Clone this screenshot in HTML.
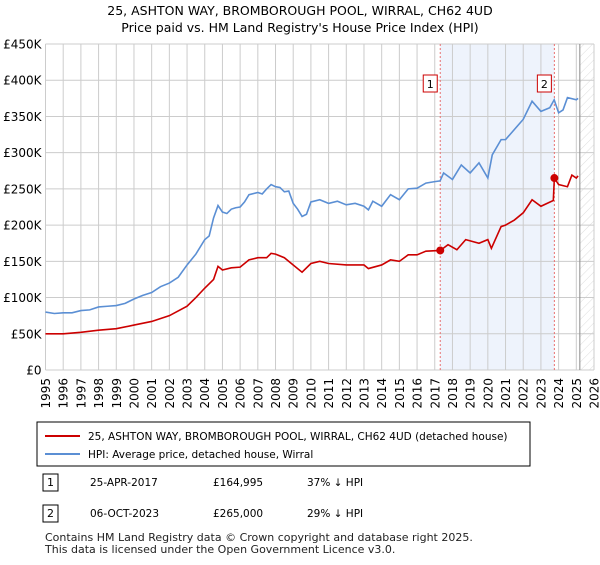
<!DOCTYPE html>
<html><head><meta charset="utf-8"><style>
body{margin:0;background:#fff;font-family:"Liberation Sans","DejaVu Sans",sans-serif;}
svg text{font-family:"DejaVu Sans","Liberation Sans",sans-serif;}
</style></head><body>
<svg id="c" width="600" height="560" xmlns="http://www.w3.org/2000/svg">
<defs><pattern id="h" width="6" height="6" patternUnits="userSpaceOnUse" patternTransform="rotate(45)"><line x1="0" y1="0" x2="0" y2="6" stroke="#d4d4d4" stroke-width="0.8"/></pattern></defs>
<text x="300" y="15" text-anchor="middle" font-size="12.5" fill="#000">25, ASHTON WAY, BROMBOROUGH POOL, WIRRAL, CH62 4UD</text>
<text x="300" y="32" text-anchor="middle" font-size="12.5" fill="#000">Price paid vs. HM Land Registry's House Price Index (HPI)</text>
<g id="plot"></g>
<rect x="37" y="422" width="493" height="44" fill="#fff" stroke="#000" stroke-width="1"/>
<line x1="45" y1="436" x2="80" y2="436" stroke="#cc0000" stroke-width="2"/>
<text x="88" y="440" font-size="10.5">25, ASHTON WAY, BROMBOROUGH POOL, WIRRAL, CH62 4UD (detached house)</text>
<line x1="45" y1="454" x2="80" y2="454" stroke="#5b8fd4" stroke-width="2"/>
<text x="88" y="458" font-size="10.5">HPI: Average price, detached house, Wirral</text>
<g>
<rect x="43" y="474" width="15" height="17" fill="#fff" stroke="#000"/><text x="50.5" y="486" text-anchor="middle" font-size="11">1</text>
<text x="90" y="486" font-size="10.5">25-APR-2017</text><text x="213" y="486" font-size="10.5">£164,995</text><text x="307" y="486" font-size="10.5">37% ↓ HPI</text></g>
<g>
<rect x="43" y="505" width="15" height="17" fill="#fff" stroke="#000"/><text x="50.5" y="517" text-anchor="middle" font-size="11">2</text>
<text x="90" y="517" font-size="10.5">06-OCT-2023</text><text x="213" y="517" font-size="10.5">£265,000</text><text x="307" y="517" font-size="10.5">29% ↓ HPI</text></g>
<text x="45" y="541" font-size="11" fill="#222">Contains HM Land Registry data © Crown copyright and database right 2025.</text>
<text x="45" y="553" font-size="11" fill="#222">This data is licensed under the Open Government Licence v3.0.</text>
</svg>
<script>
const hpiYears=[1995,1995.5,1996,1996.5,1997,1997.5,1998,1998.5,1999,1999.5,2000,2000.5,2001,2001.5,2002,2002.5,2003,2003.5,2004,2004.25,2004.5,2004.75,2005,2005.25,2005.5,2005.75,2006,2006.25,2006.5,2007,2007.25,2007.5,2007.75,2008,2008.25,2008.5,2008.75,2009,2009.25,2009.5,2009.75,2010,2010.5,2011,2011.5,2012,2012.5,2013,2013.25,2013.5,2014,2014.5,2015,2015.5,2016,2016.5,2017,2017.3,2017.5,2018,2018.5,2019,2019.5,2020,2020.25,2020.75,2021,2021.5,2022,2022.5,2023,2023.5,2023.75,2024,2024.25,2024.5,2025,2025.1];
const hpiValues=[80,78,79,79,82,83,87,88,89,92,98,103,107,115,120,128,145,160,180,185,210,227,218,216,222,224,225,232,242,245,243,250,256,253,252,246,247,230,222,212,215,232,235,230,233,228,230,226,221,233,226,242,235,250,251,258,260,261,272,263,283,272,286,265,297,318,318,332,346,371,357,362,373,355,359,376,373,375];
const priceYears=[1995,1996,1997,1998,1999,2000,2001,2002,2003,2003.5,2004,2004.5,2004.75,2005,2005.5,2006,2006.5,2007,2007.5,2007.75,2008,2008.5,2009,2009.5,2010,2010.5,2011,2012,2013,2013.25,2014,2014.5,2015,2015.5,2016,2016.5,2017.31,2017.75,2018.25,2018.75,2019.5,2020,2020.2,2020.75,2021,2021.5,2022,2022.5,2023,2023.7,2023.76,2024,2024.5,2024.75,2025,2025.1];
const priceValues=[50,50,52,55,57,62,67,75,88,100,113,125,143,138,141,142,152,155,155,161,160,155,145,135,147,150,147,145,145,140,145,152,150,159,159,164,165,173,166,180,175,180,168,198,200,207,217,235,226,234,265,256,253,269,265,268];
const saleYears=[2017.31,2023.76];
const saleValues=[164.995,265];
const saleLabels=["1","2"];
const yTicks=[0,50,100,150,200,250,300,350,400,450];
const yTickLabels=["£0","£50K","£100K","£150K","£200K","£250K","£300K","£350K","£400K","£450K"];
const xTicks=[1995,1996,1997,1998,1999,2000,2001,2002,2003,2004,2005,2006,2007,2008,2009,2010,2011,2012,2013,2014,2015,2016,2017,2018,2019,2020,2021,2022,2023,2024,2025,2026];
const X0=45.5,X1=594,Y0=370,Y1=44;
const xs=y=>X0+(y-1995)/(2026-1995)*(X1-X0);
const ys=v=>Y0-v/450*(Y0-Y1);
const NS="http://www.w3.org/2000/svg";
const g=document.getElementById('plot');
function mk(t,a){const e=document.createElementNS(NS,t);for(const k in a)e.setAttribute(k,a[k]);g.appendChild(e);return e;}
let e=mk('rect',{x:xs(saleYears[0]),y:Y1,width:xs(saleYears[1])-xs(saleYears[0]),height:Y0-Y1,fill:'#eef3fc'});


e=mk('rect',{x:xs(2025.2),y:Y1,width:X1-xs(2025.2),height:Y0-Y1,fill:'url(#h)'});


xTicks.forEach((t,i)=>{
 const l=mk('line',{x1:xs(t),x2:xs(t),y1:Y1,y2:Y0,stroke:'#ccc','stroke-width':1});
 
 
 const tx=mk('text',{x:0,y:0,'font-size':12,'text-anchor':'end',transform:`translate(${xs(t)+4.5},${Y0+8}) rotate(-90)`});
 tx.textContent=t;
 
 
});
yTicks.forEach((t,i)=>{
 const l=mk('line',{x1:X0,x2:X1,y1:ys(t),y2:ys(t),stroke:'#ccc','stroke-width':1});
 
 
 const tx=mk('text',{x:X0-4,y:ys(t)+4.5,'font-size':12,'text-anchor':'end'});
 tx.textContent=yTickLabels[i];
 
 
});
e=mk('line',{x1:xs(2025.2),x2:xs(2025.2),y1:Y1,y2:Y0,stroke:'#888','stroke-width':1});


saleYears.forEach((s,i)=>{
 const l=mk('line',{x1:xs(s),x2:xs(s),y1:Y1,y2:Y0,stroke:'#e87070','stroke-width':1,'stroke-dasharray':'2,2'});
 
 
});
e=mk('polyline',{points:hpiYears.map((y,i)=>xs(y)+','+ys(hpiValues[i])).join(' '),fill:'none',stroke:'#5b8fd4','stroke-width':1.6});


e=mk('polyline',{points:priceYears.map((y,i)=>xs(y)+','+ys(priceValues[i])).join(' '),fill:'none',stroke:'#cc0000','stroke-width':1.6});


saleYears.forEach((s,i)=>{
 const c=mk('circle',{cx:xs(s),cy:ys(saleValues[i]),r:4,fill:'#cc0000'});
 
 
 const r=mk('rect',{x:xs(s)-17,y:75,width:14,height:17,fill:'#fff',stroke:'#cc0000'});
 
 
 const t=mk('text',{x:xs(s)-10,y:88,'font-size':11,'text-anchor':'middle'});
 t.textContent=saleLabels[i];
 
 
});
</script>
</body></html>
